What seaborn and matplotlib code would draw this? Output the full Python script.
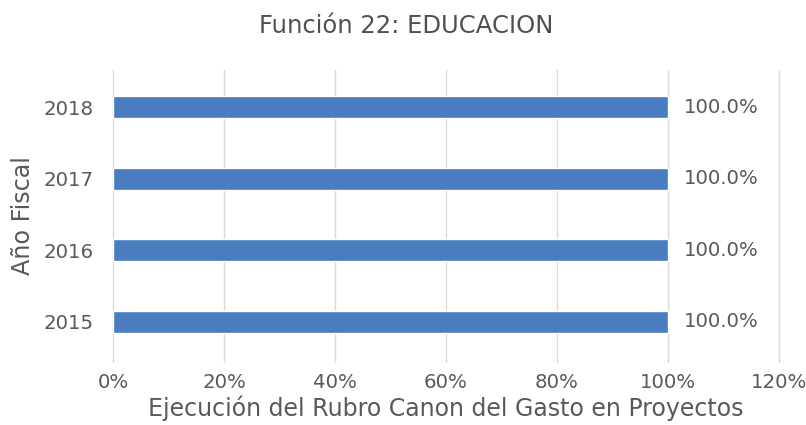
import numpy as np
import pandas as pd
import seaborn as sns
import matplotlib.pyplot as plt
from matplotlib.ticker import PercentFormatter

# Data
years = ['2018', '2017', '2016', '2015']
ejecucion = [100.0, 100.0, 100.0, 100.0]

df = pd.DataFrame({'Año': years, 'Ejecucion': ejecucion})

sns.set_style('white')
plt.rcParams['font.family'] = ['DejaVu Sans']
text_color = '#595959'

fig = plt.figure(figsize=(8.06, 4.25), dpi=100)
ax = fig.add_axes([0.1402, 0.1482, 0.8263, 0.6871])

sns.barplot(data=df, x='Ejecucion', y='Año', color='#4A7CC0', width=0.307,
            saturation=1, ax=ax)

ax.set_xlim(0, 120)
ax.set_ylim(3.56, -0.52)
ax.set_xticks(np.arange(0, 121, 20))
ax.xaxis.set_major_formatter(PercentFormatter(decimals=0))
ax.grid(axis='x', color='#D9D9D9', linewidth=1)
ax.grid(axis='y', visible=False)
ax.set_axisbelow(True)
for line in ax.get_xgridlines():
    line.set_clip_on(False)
for s in ax.spines.values():
    s.set_visible(False)

# value labels
for i, v in enumerate(ejecucion):
    ax.text(v + 2.9, i, f'{v:.1f}%', va='center', ha='left', fontsize=14.2, color=text_color)

ax.tick_params(axis='both', length=0, labelsize=14.2, labelcolor=text_color)
ax.tick_params(axis='y', pad=14)
ax.tick_params(axis='x', pad=8)
ax.set_xlabel('')
ax.set_ylabel('')

fig.text(0.5533, 0.022, 'Ejecución del Rubro Canon del Gasto en Proyectos',
         ha='center', va='baseline', fontsize=17, color=text_color)
fig.text(23 / 806, 1 - 216 / 425, 'Año Fiscal', rotation=90, ha='center', va='center',
         fontsize=17.2, color=text_color)
fig.text(0.5037, 0.922, 'Función 22: EDUCACION', ha='center', va='baseline',
         fontsize=17.5, color='#505050')

fig.savefig('out.png', dpi=100)
